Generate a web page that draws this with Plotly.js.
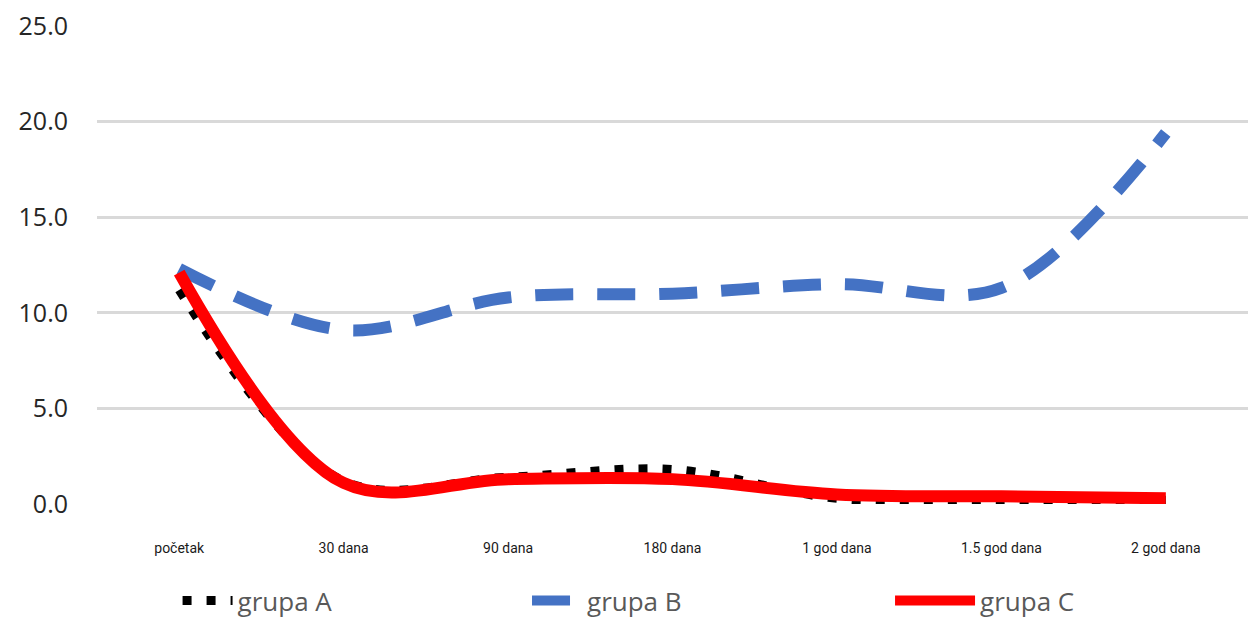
<!DOCTYPE html>
<html>
<head>
<meta charset="utf-8">
<script src="https://cdn.plot.ly/plotly-3.0.1.min.js"></script>
<style>
  html, body { margin: 0; padding: 0; background: #ffffff; }
  #chart { width: 1248px; height: 624px; }
</style>
</head>
<body>
<div id="chart"></div>
<script>
// Time points of the follow-up
const categories = ['početak', '30 dana', '90 dana', '180 dana', '1 god dana', '1.5 god dana', '2 god dana'];

// Measured values per group
const grupaA = [11.2, 1.2, 1.4, 1.8, 0.3, 0.2, 0.2];
const grupaB = [12.3, 9.1, 10.8, 11.0, 11.5, 11.3, 19.4];
const grupaC = [12.1, 1.1, 1.3, 1.3, 0.5, 0.4, 0.3];

const seriesNames = ['grupa A', 'grupa B', 'grupa C'];
const yTicks = [0, 5, 10, 15, 20, 25];

const legendFont = { family: 'Open Sans, Noto Sans, sans-serif', size: 26, color: '#595959' };

const traces = [
  {
    x: categories, y: grupaA, name: seriesNames[0], type: 'scatter', mode: 'lines',
    legend: 'legend',
    line: { color: '#000000', width: 9, dash: '9px,15px', shape: 'spline', smoothing: 1 },
    hoverinfo: 'skip'
  },
  {
    x: categories, y: grupaB, name: seriesNames[1], type: 'scatter', mode: 'lines',
    legend: 'legend2',
    line: { color: '#4472C4', width: 12, dash: '38px,24px', shape: 'spline', smoothing: 1 },
    hoverinfo: 'skip'
  },
  {
    x: categories, y: grupaC, name: seriesNames[2], type: 'scatter', mode: 'lines',
    legend: 'legend3',
    line: { color: '#FF0000', width: 12, shape: 'spline', smoothing: 1 },
    hoverinfo: 'skip'
  }
];

// one legend box per group, laid out in a row under the axis
function legendAt(x, w) {
  return {
    orientation: 'h', x: x, xanchor: 'left', y: 0, yanchor: 'bottom',
    itemwidth: w, bgcolor: 'rgba(0,0,0,0)', font: legendFont
  };
}

const layout = {
  width: 1248, height: 624,
  paper_bgcolor: '#ffffff', plot_bgcolor: '#ffffff',
  margin: { l: 97, r: 0, t: 26, b: 0 },
  font: { family: 'Open Sans, Noto Sans, sans-serif', color: '#262626' },
  xaxis: {
    type: 'category',
    range: [-0.5, 6.5],
    showgrid: false, zeroline: false, showline: false,
    ticks: '',
    ticklabelstandoff: 34,
    tickfont: { family: 'Liberation Sans Narrow, Roboto, sans-serif', size: 14, color: '#1a1a1a' }
  },
  yaxis: {
    domain: [0.2007, 1],
    range: [0, 25],
    tickvals: yTicks,
    tickformat: '.1f',
    showgrid: true, gridcolor: '#d9d9d9', gridwidth: 3,
    zeroline: false, showline: false, ticks: '',
    ticklabelstandoff: 28,
    tickfont: { family: 'Open Sans, Noto Sans, sans-serif', size: 25, color: '#262626' }
  },
  showlegend: true,
  legend: legendAt(0.07, 50),
  legend2: legendAt(0.3736, 50),
  legend3: legendAt(0.689, 80)
};

Plotly.newPlot('chart', traces, layout, { displayModeBar: false, staticPlot: true });
</script>
</body>
</html>
